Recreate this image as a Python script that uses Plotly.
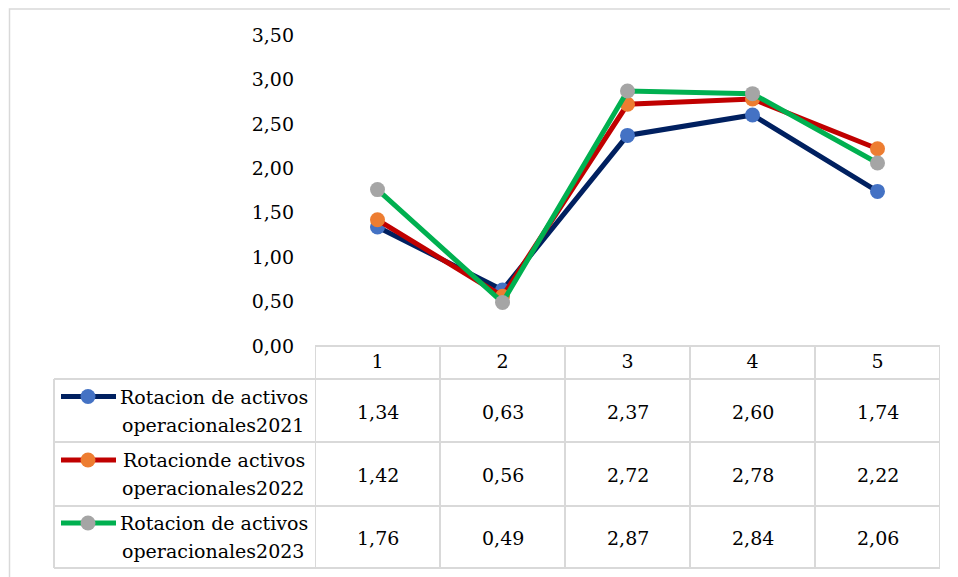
import plotly.graph_objects as go

categories = ["1", "2", "3", "4", "5"]
series_names = [
    ("Rotacion de activos", "operacionales2021"),
    ("Rotacionde activos", "operacionales2022"),
    ("Rotacion de activos", "operacionales2023"),
]
values_2021 = [1.34, 0.63, 2.37, 2.60, 1.74]
values_2022 = [1.42, 0.56, 2.72, 2.78, 2.22]
values_2023 = [1.76, 0.49, 2.87, 2.84, 2.06]
y_ticks = [0, 0.5, 1.0, 1.5, 2.0, 2.5, 3.0, 3.5]

series_values = [values_2021, values_2022, values_2023]
line_colors = ["#002060", "#C00000", "#00B050"]
marker_colors = ["#4472C4", "#ED7D31", "#A5A5A5"]

OFF = 8  # page body margin
W, H = 958 - OFF, 577 - OFF
FONT = "DejaVu Serif"
FS = 19
GRID = "#D9D9D9"


def px(p):
    return (p - OFF) / W


def py(p):
    return 1 - (p - OFF) / H


fig = go.Figure()
xs = [i + 1 for i in range(len(categories))]
for vals, lc, mc, nm in zip(series_values, line_colors, marker_colors, series_names):
    fig.add_trace(go.Scatter(
        x=xs, y=vals, mode="lines+markers",
        line=dict(color=lc, width=5),
        marker=dict(color=mc, size=15),
        name=" ".join(nm), showlegend=False, hoverinfo="skip",
    ))

# table geometry (reference pixels)
plot_left, plot_right = 315, 940
plot_top, plot_bottom = 35, 346
legend_left = 54
row_lines = [379, 442, 506, 568]

shapes = []
# outer chart border
shapes.append(dict(type="rect", xref="paper", yref="paper",
                   x0=px(9.5), x1=1.2, y0=-0.2, y1=py(9),
                   line=dict(color=GRID, width=1.5), layer="below"))
# header top
shapes.append(dict(type="line", xref="paper", yref="paper",
                   x0=px(plot_left), x1=px(plot_right), y0=py(plot_bottom), y1=py(plot_bottom),
                   line=dict(color=GRID, width=2)))
# row lines
for r in row_lines:
    shapes.append(dict(type="line", xref="paper", yref="paper",
                       x0=px(legend_left), x1=px(plot_right), y0=py(r), y1=py(r),
                       line=dict(color=GRID, width=2)))
# vertical lines (category boundaries via axis)
for b in [k + 0.5 for k in range(len(categories) + 1)]:
    shapes.append(dict(type="line", xref="x", yref="paper",
                       x0=b, x1=b, y0=py(plot_bottom), y1=py(row_lines[-1]),
                       line=dict(color=GRID, width=2)))
shapes.append(dict(type="line", xref="paper", yref="paper",
                   x0=px(legend_left), x1=px(legend_left), y0=py(row_lines[0]), y1=py(row_lines[-1]),
                   line=dict(color=GRID, width=2)))

annotations = []
for ri, (vals, lc, mc, nm) in enumerate(zip(series_values, line_colors, marker_colors, series_names)):
    top, bot = row_lines[ri], row_lines[ri + 1]
    center = (top + bot) / 2
    l1 = center - 14
    l2 = center + 14
    # legend key
    shapes.append(dict(type="line", xref="paper", yref="paper",
                       x0=px(61), x1=px(116), y0=py(l1), y1=py(l1),
                       line=dict(color=lc, width=5)))
    shapes.append(dict(type="circle", xref="paper", yref="paper",
                       xsizemode="pixel", ysizemode="pixel",
                       xanchor=px(88), yanchor=py(l1),
                       x0=-7.5, x1=7.5, y0=-7.5, y1=7.5,
                       fillcolor=mc, line=dict(width=0)))
    annotations.append(dict(xref="paper", yref="paper", x=px(214), y=py(l1),
                            text=nm[0], showarrow=False, xanchor="center", yanchor="middle",
                            font=dict(family=FONT, size=FS, color="black")))
    annotations.append(dict(xref="paper", yref="paper", x=px(213), y=py(l2),
                            text=nm[1], showarrow=False, xanchor="center", yanchor="middle",
                            font=dict(family=FONT, size=FS, color="black")))
    for xi, v in zip(xs, vals):
        annotations.append(dict(xref="x", yref="paper", x=xi, y=py(center + 1),
                                text=f"{v:.2f}".replace(".", ","), showarrow=False,
                                xanchor="center", yanchor="middle",
                                font=dict(family=FONT, size=FS, color="black")))

fig.update_layout(
    width=W, height=H,
    margin=dict(l=0, r=0, t=0, b=0, pad=0, autoexpand=False),
    paper_bgcolor="white", plot_bgcolor="white",
    separators=", ",
    showlegend=False,
    hovermode=False,
    font=dict(family=FONT, size=FS, color="black"),
    xaxis=dict(domain=[px(plot_left), px(plot_right)], range=[0.5, 5.5],
               tickvals=xs, ticktext=categories, showgrid=False, zeroline=False,
               showline=False, ticks="", ticklabelstandoff=2, automargin=False,
               tickfont=dict(family=FONT, size=FS, color="black"), anchor="y"),
    yaxis=dict(domain=[py(plot_bottom), py(plot_top)], range=[0, 3.5],
               tickvals=y_ticks, tickformat=".2f", showgrid=False, zeroline=False,
               showline=False, ticks="", ticklabelstandoff=20, automargin=False,
               tickfont=dict(family=FONT, size=FS, color="black")),
    shapes=shapes,
    annotations=annotations,
)

fig.write_html("out.html", config={"displayModeBar": False})
